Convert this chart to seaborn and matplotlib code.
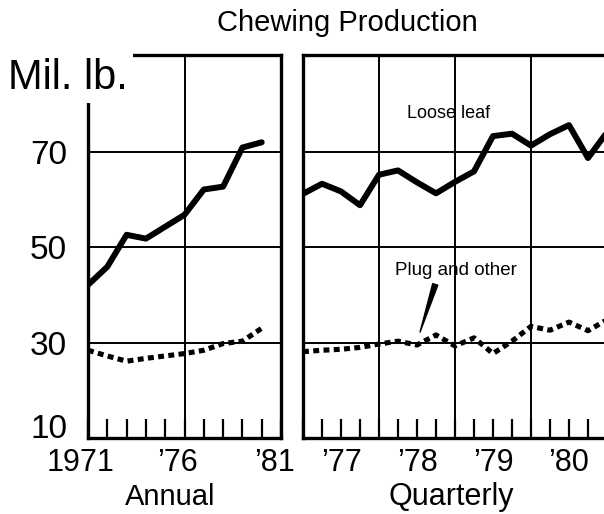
import matplotlib
matplotlib.use("Agg")
import matplotlib.pyplot as plt
import matplotlib.transforms as mtransforms
from matplotlib.ticker import FixedLocator, FuncFormatter
import seaborn as sns
import pandas as pd

# ---------------- data ----------------
annual_years = [1971, 1972, 1973, 1974, 1975, 1976, 1977, 1978, 1979, 1980]
annual_loose_leaf = [42.1, 45.9, 52.6, 51.8, 54.3, 56.8, 62.1, 62.7, 70.9, 72.0]
annual_plug_other = [28.4, 27.2, 26.1, 26.7, 27.2, 27.7, 28.4, 29.8, 30.3, 33.0]

quarters = [1977.0, 1977.25, 1977.5, 1977.75,
            1978.0, 1978.25, 1978.5, 1978.75,
            1979.0, 1979.25, 1979.5, 1979.75,
            1980.0, 1980.25, 1980.5, 1980.75,
            1981.0]
quarterly_loose_leaf = [61.2, 63.3, 61.7, 58.8,
                        65.2, 66.1, 63.6, 61.3,
                        63.7, 65.9, 73.3, 73.8,
                        71.3, 73.7, 75.6, 68.7,
                        74.1]
quarterly_plug_other = [28.1, 28.4, 28.6, 29.0,
                        29.7, 30.3, 29.5, 31.6,
                        29.3, 31.0, 27.7, 30.3,
                        33.4, 32.6, 34.3, 32.5,
                        34.8]

y_ticks = [10, 30, 50, 70]
y_tick_labels = ["10", "30", "50", "70"]
annual_tick_years = [1971, 1976, 1981]
annual_tick_labels = ["1971", "\u201976", "\u201981"]
quarter_years = [1977, 1978, 1979, 1980]
quarter_year_labels = ["\u201977", "\u201978", "\u201979", "\u201980"]

title = "Chewing Production"
unit_label = "Mil. lb."

# ---------------- style ----------------
sns.set_theme(style="white")
plt.rcParams["font.family"] = ["Liberation Sans", "DejaVu Sans"]
plt.rcParams["text.color"] = "black"
plt.rcParams["xtick.color"] = "black"
plt.rcParams["ytick.color"] = "black"
plt.rcParams["xtick.labelcolor"] = "black"
plt.rcParams["ytick.labelcolor"] = "black"

W, H = 604, 514
fig = plt.figure(figsize=(W / 100, H / 100), dpi=100)


def rect(x0, y0, x1, y1):
    return [x0 / W, 1 - y1 / H, (x1 - x0) / W, (y1 - y0) / H]


ax1 = fig.add_axes(rect(88, 55, 281, 438))
ax2 = fig.add_axes(rect(303, 55, 607, 438))

annual_df = pd.DataFrame({"year": annual_years,
                          "loose": annual_loose_leaf,
                          "plug": annual_plug_other})
quarter_df = pd.DataFrame({"t": quarters,
                           "loose": quarterly_loose_leaf,
                           "plug": quarterly_plug_other})

solid_kw = dict(color="black", linewidth=4.3, errorbar=None)
dot_kw = dict(color="black", linewidth=3.7, errorbar=None,
              linestyle=(0, (1.15, 0.85)), dash_capstyle="butt")

sns.lineplot(data=annual_df, x="year", y="loose", ax=ax1, **solid_kw)
sns.lineplot(data=annual_df, x="year", y="plug", ax=ax1, **dot_kw)
sns.lineplot(data=quarter_df, x="t", y="loose", ax=ax2, **solid_kw)
sns.lineplot(data=quarter_df, x="t", y="plug", ax=ax2, **dot_kw)

for ax in (ax1, ax2):
    ax.set_ylim(10, 90.3)
    ax.set_xlabel("")
    ax.set_ylabel("")
    ax.set_yticks(y_ticks)
    for sp in ax.spines.values():
        sp.set_visible(True)
        sp.set_color("black")
        sp.set_linewidth(2.4)
    ax.grid(True, axis="both", which="major", color="black", linewidth=1.4)
    ax.set_axisbelow(True)
    ax.tick_params(axis="x", which="both", direction="in", length=14,
                   width=1.6, color="black", bottom=True, top=False,
                   labelsize=22, pad=7, labelcolor="black")
    ax.tick_params(axis="y", length=0, labelcolor="black")

# left (annual) panel
ax1.set_xlim(annual_tick_years[0], annual_tick_years[-1])
ax1.set_xticks(annual_tick_years)
ax1.set_xticklabels(annual_tick_labels)
ax1.xaxis.set_minor_locator(FixedLocator(list(range(annual_tick_years[0], annual_tick_years[-1] + 1))))
ax1.set_yticklabels(y_tick_labels, fontsize=24)
ax1.tick_params(axis="y", pad=15)
for lab in ax1.get_yticklabels():
    if lab.get_text() == "10":
        lab.set_va("baseline")
shift = mtransforms.ScaledTranslation(-7 / 100, 0, fig.dpi_scale_trans)
for lab in ax1.get_xticklabels():
    lab.set_transform(lab.get_transform() + shift)

# right (quarterly) panel
ax2.set_xlim(quarter_years[0], quarter_years[-1] + 1)
ax2.set_xticks(quarter_years + [quarter_years[-1] + 1])
ax2.set_xticklabels([])
minor_pos = [q for q in quarters if q % 1 != 0]
ax2.xaxis.set_minor_locator(FixedLocator(minor_pos))
lab_map = {y + 0.5: l for y, l in zip(quarter_years, quarter_year_labels)}
ax2.xaxis.set_minor_formatter(FuncFormatter(lambda v, p: lab_map.get(round(v, 2), "")))
ax2.tick_params(axis="x", which="minor", labelsize=22, pad=7)
ax2.set_yticklabels([])

# series labels
ax2.text(1978.91, 78.0, "Loose leaf", ha="center", va="center", fontsize=13)
ax2.text(1979.01, 45.2, "Plug and other", ha="center", va="center", fontsize=13.5)
ax2.annotate("", xy=(1978.54, 32.2), xytext=(1978.74, 42.2),
             arrowprops=dict(arrowstyle="wedge,tail_width=0.32,shrink_factor=0.5",
                             color="black", shrinkA=0, shrinkB=0))

# titles
fig.text(347 / W, 1 - 31 / H, title, ha="center", va="baseline", fontsize=21)
fig.text(8 / W, 1 - 89 / H, unit_label, ha="left", va="baseline", fontsize=30,
         bbox=dict(facecolor="white", edgecolor="none", boxstyle="square,pad=0.12"),
         zorder=10)
fig.text(170 / W, 1 - 505 / H, "Annual", ha="center", va="baseline", fontsize=21)
fig.text(451 / W, 1 - 505 / H, "Quarterly", ha="center", va="baseline", fontsize=22)

fig.savefig("out.png", dpi=100)
